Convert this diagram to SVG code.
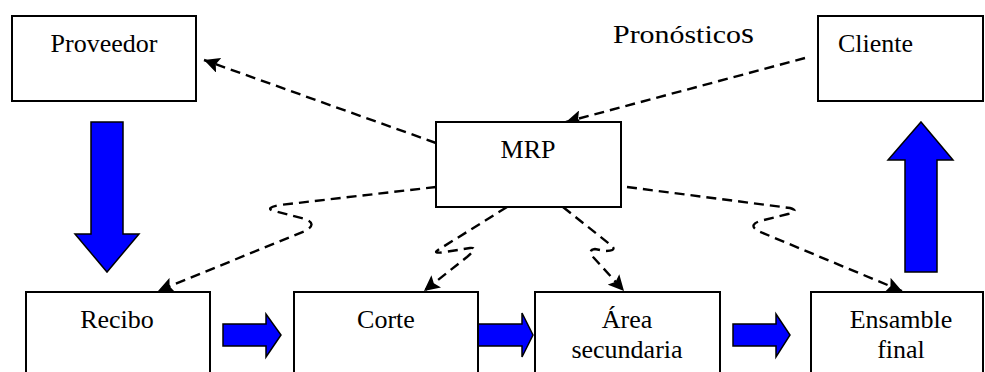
<svg xmlns="http://www.w3.org/2000/svg" width="985" height="372" viewBox="0 0 985 372">
<defs>
<marker id="ah" viewBox="0 0 10 10" refX="10" refY="5" markerWidth="6.5" markerHeight="6.5" markerUnits="strokeWidth" orient="auto">
<path d="M0,0 L10,5 L0,10 L2,5 Z" fill="#000"/>
</marker>
<style>
.box{fill:#fff;stroke:#000;stroke-width:2}
.t{font-family:"Liberation Serif","Times New Roman",serif;font-size:26px;fill:#000}
.c{text-anchor:middle}
.dash{fill:none;stroke:#000;stroke-width:2.4;stroke-dasharray:10 6;marker-end:url(#ah)}
.blue{fill:#0000ff;stroke:#000;stroke-width:1.5;stroke-linejoin:miter}
</style>
</defs>
<rect width="985" height="372" fill="#fff"/>
<g id="connectors">
<path class="dash" d="M436,143 L204,60"/>
<path class="dash" d="M805,58 L566,122"/>
<path class="dash" d="M436,187 L280,205 Q264,208 274,211 L305,219 Q318,224 305,231 L158,291"/>
<path class="dash" d="M507,207 L438,250 Q432,254 445,252 L470,248 Q479,247 467,257 L424,291"/>
<path class="dash" d="M563,207 L612,246 Q617,251 605,251 L595,249 Q587,250 594,258 L624,291"/>
<path class="dash" d="M627,187 L790,208 Q800,211 788,214 L760,221 Q748,225 758,231 L902,291"/>
<polygon class="blue" points="91,122 123,122 123,234 139,234 107,272 75,234 91,234"/>
<polygon class="blue" points="921,122 953,160 937,160 937,272 905,272 905,160 888,160"/>
<polygon class="blue" points="223,324 266,324 266,314 281,335 266,357 266,346 223,346"/>
<polygon class="blue" points="478,324 522,324 522,313 533,335 522,357 522,346 478,346"/>
<polygon class="blue" points="733,324 776,324 776,314 790,335 776,357 776,346 733,346"/>
</g>
<g id="proveedor"><rect class="box" x="12" y="16" width="184" height="85"/><text class="t c" x="104" y="52">Proveedor</text></g>
<g id="pronosticos"><text class="t" x="613" y="43" textLength="141" lengthAdjust="spacingAndGlyphs">Pronóstico<tspan font-size="29">s</tspan></text></g>
<g id="cliente"><rect class="box" x="818" y="16" width="165" height="85"/><text class="t" x="838" y="52">Cliente</text></g>
<g id="mrp"><rect class="box" x="436" y="122" width="185" height="85"/><text class="t c" x="528" y="158">MRP</text></g>
<g id="recibo"><rect class="box" x="26" y="292" width="184" height="100"/><text class="t c" x="117" y="328">Recibo</text></g>
<g id="corte"><rect class="box" x="294" y="292" width="184" height="100"/><text class="t c" x="386" y="328">Corte</text></g>
<g id="area"><rect class="box" x="535" y="292" width="185" height="100"/><text class="t c" x="627" y="328">Área</text><text class="t c" x="627" y="358">secundaria</text></g>
<g id="ensamble"><rect class="box" x="811" y="292" width="172" height="100"/><text class="t c" x="901" y="328">Ensamble</text><text class="t c" x="901" y="358">final</text></g>
</svg>
